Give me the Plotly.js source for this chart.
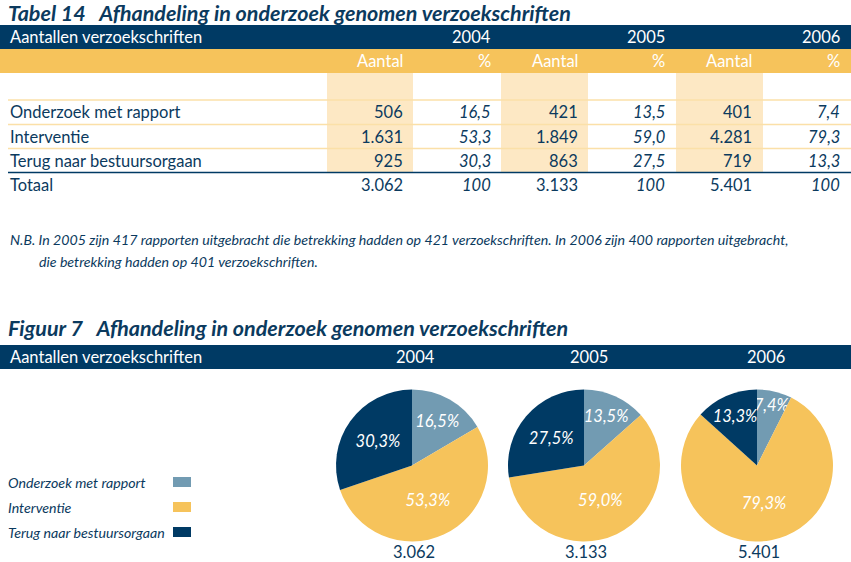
<!DOCTYPE html>
<html><head><meta charset="utf-8">
<script src="https://cdn.plot.ly/plotly-3.0.1.min.js"></script>
<style>html,body{margin:0;padding:0;background:#fff}</style>
</head><body><div id="chart" style="width:851px;height:562px"></div>
<script>
// ---------- data ----------
const years = ['2004', '2005', '2006'];
const categories = ['Onderzoek met rapport', 'Interventie', 'Terug naar bestuursorgaan'];
const aantal2004 = [506, 1631, 925];
const aantal2005 = [421, 1849, 863];
const aantal2006 = [401, 4281, 719];
const pct2004 = [16.5, 53.3, 30.3];
const pct2005 = [13.5, 59.0, 27.5];
const pct2006 = [7.4, 79.3, 13.3];
const totals = [3062, 3133, 5401];
const totalPct = [100, 100, 100];
const colHeaders = ['Aantal', '%'];
const totalLabel = 'Totaal';
const headerLabel = 'Aantallen verzoekschriften';
const tableTitle = 'Tabel 14   Afhandeling in onderzoek genomen verzoekschriften';
const figTitle = 'Figuur 7   Afhandeling in onderzoek genomen verzoekschriften';
const noteLines = [
  'N.B. In 2005 zijn 417 rapporten uitgebracht die betrekking hadden op 421 verzoekschriften. In 2006 zijn 400 rapporten uitgebracht,',
  'die betrekking hadden op 401 verzoekschriften.'
];

// ---------- styling ----------
const NAVY = '#003a64', YEL = '#f6c35b', LBLUE = '#729bb2', PEACH = '#fde8c4', LINE = '#fbe0a8', TXT = '#0b3a5e';
const sliceColors = [LBLUE, YEL, NAVY];
const FONT = 'Lato, "Open Sans", sans-serif';
const W = 851, H = 562;
const X = p => p / W, Y = p => 1 - p / H;

const aantal = [aantal2004, aantal2005, aantal2006];
const pct = [pct2004, pct2005, pct2006];
const fmtInt = n => String(n).replace(/\B(?=(\d{3})+(?!\d))/g, '.');
const fmtPct = p => (Number.isInteger(p) && p === 100) ? '100' : p.toFixed(1).replace('.', ',');

const shapes = [], ann = [];
function rect(x0, y0, x1, y1, color) {
  shapes.push({type: 'rect', xref: 'paper', yref: 'paper', x0: X(x0), x1: X(x1), y0: Y(y1), y1: Y(y0),
    fillcolor: color, line: {width: 0}, layer: 'below'});
}
function hline(y, x0, x1, color, w) {
  shapes.push({type: 'line', xref: 'paper', yref: 'paper', x0: X(x0), x1: X(x1), y0: Y(y), y1: Y(y),
    line: {color: color, width: w}});
}
function text(t, x, y, opts) {
  opts = opts || {};
  ann.push({text: t, xref: 'paper', yref: 'paper', x: X(x), y: Y(y), showarrow: false,
    xanchor: opts.xa || 'left', yanchor: 'middle',
    font: {family: FONT, size: opts.size || 16.5, color: opts.color || TXT,
      style: opts.italic ? 'italic' : 'normal', weight: opts.bold ? 700 : 400}});
}

// ---------- table ----------
text(tableTitle, 6, 13, {size: 21.5, bold: true, italic: true});
rect(0, 25, W, 49, NAVY);
rect(0, 49, W, 73, YEL);
text(headerLabel, 8, 37, {color: '#fff'});
const aantalRight = [405, 580, 754];
const pctRight = [493, 667, 842];
const colLeft = [327, 501, 676], colRightEdge = [413, 588, 763];
const rowY = [112, 136.5, 160.5];
years.forEach((yr, i) => {
  text(yr, pctRight[i], 37, {xa: 'right', color: '#fff'});
  text(colHeaders[0], aantalRight[i], 61, {xa: 'right', color: '#fff'});
  text(colHeaders[1], pctRight[i], 61, {xa: 'right', color: '#fff'});
  rect(colLeft[i], 73, colRightEdge[i], 172, PEACH);
  categories.forEach((c, j) => {
    text(fmtInt(aantal[i][j]), aantalRight[i], rowY[j], {xa: 'right'});
    text(fmtPct(pct[i][j]), pctRight[i], rowY[j], {xa: 'right', italic: true});
  });
  text(fmtInt(totals[i]), aantalRight[i], 185, {xa: 'right'});
  text(fmtPct(totalPct[i]), pctRight[i], 185, {xa: 'right', italic: true});
});
categories.forEach((c, j) => text(c, 8, rowY[j]));
text(totalLabel, 8, 185);
[100, 124.5, 148.5].forEach(y => hline(y, 8, W, LINE, 1.3));
hline(172.5, 8, W, NAVY, 1.5);

text(noteLines[0], 8, 239, {size: 14.2, italic: true});
text(noteLines[1], 37, 262, {size: 14.2, italic: true});

// ---------- figure ----------
text(figTitle, 6, 328, {size: 21.5, bold: true, italic: true});
rect(0, 345, W, 369, NAVY);
text(headerLabel, 8, 357, {color: '#fff'});
const pieCx = [412, 584, 757], pieCy = 465.5, R = 76;
const yearCx = [415, 589, 766];
years.forEach((yr, i) => {
  text(yr, yearCx[i], 357, {xa: 'center', color: '#fff'});
  text(fmtInt(totals[i]), pieCx[i] + 2, 552, {xa: 'center'});
});

// legend
categories.forEach((c, j) => {
  const yc = 482 + 25 * j;
  text(c, 6, yc, {size: 14.2, italic: true});
  rect(173, yc - 5, 191, yc + 5, sliceColors[j]);
});

const traces = years.map((yr, i) => ({
  type: 'pie',
  values: aantal[i],
  labels: categories,
  text: pct[i].map(p => fmtPct(p) + '%'),
  textinfo: 'text',
  textposition: 'inside',
  insidetextorientation: 'horizontal',
  insidetextfont: {family: FONT, size: 16.5, color: '#ffffff', style: 'italic'},
  sort: false,
  direction: 'clockwise',
  rotation: 0,
  marker: {colors: sliceColors, line: {width: 0}},
  domain: {x: [X(pieCx[i] - R), X(pieCx[i] + R)], y: [Y(pieCy + R), Y(pieCy - R)]},
  hoverinfo: 'none',
  showlegend: false
}));

const layout = {
  width: W, height: H,
  margin: {l: 0, r: 0, t: 0, b: 0},
  paper_bgcolor: '#fff', plot_bgcolor: '#fff',
  showlegend: false,
  uniformtext: {minsize: 16.5, mode: 'show'},
  shapes: shapes, annotations: ann,
  font: {family: FONT, color: TXT}
};
Plotly.newPlot('chart', traces, layout, {staticPlot: true, displayModeBar: false});
</script></body></html>
